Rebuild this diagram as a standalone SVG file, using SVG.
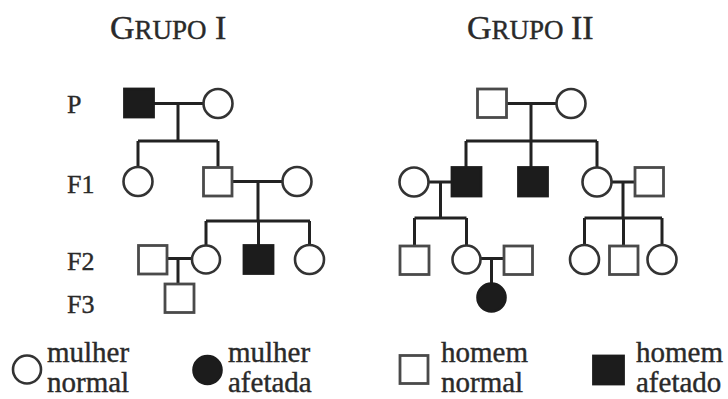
<svg xmlns="http://www.w3.org/2000/svg" width="728" height="399" viewBox="0 0 728 399">
<style>
text{font-family:"Liberation Serif","Times New Roman","DejaVu Serif",serif;fill:#2a2a2a;stroke:#2a2a2a;stroke-width:0.4}
.ttl{font-size:34px}
.sc{font-size:27px}
.lbl{font-size:26px}
.leg{font-size:29px}
.sq{fill:#fff;stroke:#4a4a4a;stroke-width:2.8}
.sqa{fill:#1c1c1c;stroke:#1c1c1c;stroke-width:2.8}
.ci{fill:#fff;stroke:#333;stroke-width:2.6}
.cia{fill:#1c1c1c;stroke:#1c1c1c;stroke-width:2.6}
.ln{fill:none;stroke:#222;stroke-width:3}
</style>
<rect width="728" height="399" fill="#fff"/>
<g id="titles">
<text class="ttl" x="110" y="39">G<tspan class="sc">RUPO</tspan><tspan x="215">I</tspan></text>
<text class="ttl" x="467" y="39">G<tspan class="sc">RUPO</tspan><tspan x="571">II</tspan></text>
</g>
<g id="gen-labels">
<text class="lbl" x="67" y="113">P</text>
<text class="lbl" x="67" y="193">F1</text>
<text class="lbl" x="67" y="270">F2</text>
<text class="lbl" x="67" y="313">F3</text>
</g>
<g id="connectors">
<path class="ln" d="M154 103.5H203.5M178 103.5V141M138 141H218M138 141V167M218 141V167"/>
<path class="ln" d="M232 181.5H282.5M258 181.5V221M206 221H310M206 221V245M258.5 221V245M309.5 221V245"/>
<path class="ln" d="M167 258.5H192M178 258.5V284"/>
<path class="ln" d="M506.5 103.5H556.5M531 103.5V141M466 141H597M466 141V167M531 141V167M597 141V167"/>
<path class="ln" d="M428.5 182H452M440.5 182V218M414.5 218H466.5M414.5 218V246M466.5 218V245"/>
<path class="ln" d="M611 182H635M623 182V218M584.5 218H662M584.5 218V245M623.5 218V246M662 218V245"/>
<path class="ln" d="M481 258.5H504M491.5 258.5V283"/>
</g>
<g id="g1-p-man"><rect class="sqa" x="124.5" y="89" width="29" height="28"/></g>
<g id="g1-p-woman"><circle class="ci" cx="218" cy="103.5" r="14.5"/></g>
<g id="g1-f1-woman"><circle class="ci" cx="138" cy="181.5" r="14.5"/></g>
<g id="g1-f1-man"><rect class="sq" x="203.5" y="167.5" width="28.5" height="28.5"/></g>
<g id="g1-f1-wife"><circle class="ci" cx="297" cy="181.5" r="14.5"/></g>
<g id="g1-f2-husband"><rect class="sq" x="138.5" y="245.5" width="28.5" height="28.5"/></g>
<g id="g1-f2-woman1"><circle class="ci" cx="206" cy="259.5" r="14"/></g>
<g id="g1-f2-man"><rect class="sqa" x="244" y="245.5" width="29" height="28"/></g>
<g id="g1-f2-woman2"><circle class="ci" cx="309.5" cy="259.5" r="14.5"/></g>
<g id="g1-f3-man"><rect class="sq" x="165" y="284" width="29" height="28.5"/></g>
<g id="g2-p-man"><rect class="sq" x="477.5" y="89" width="29" height="28.5"/></g>
<g id="g2-p-woman"><circle class="ci" cx="571" cy="103.5" r="14.5"/></g>
<g id="g2-f1-wife"><circle class="ci" cx="414" cy="182" r="14.5"/></g>
<g id="g2-f1-man1"><rect class="sqa" x="452" y="167.5" width="29" height="28.5"/></g>
<g id="g2-f1-man2"><rect class="sqa" x="518.5" y="167.5" width="29" height="28.5"/></g>
<g id="g2-f1-woman"><circle class="ci" cx="597" cy="182" r="14.5"/></g>
<g id="g2-f1-husband"><rect class="sq" x="635" y="167.5" width="28.5" height="28.5"/></g>
<g id="g2-f2-man1"><rect class="sq" x="400" y="246" width="29" height="28.5"/></g>
<g id="g2-f2-woman1"><circle class="ci" cx="466.5" cy="259.5" r="14"/></g>
<g id="g2-f2-husband"><rect class="sq" x="504" y="246" width="28.5" height="28.5"/></g>
<g id="g2-f2-woman2"><circle class="ci" cx="584.5" cy="259.5" r="14.5"/></g>
<g id="g2-f2-man2"><rect class="sq" x="609.5" y="246" width="28.5" height="28.5"/></g>
<g id="g2-f2-woman3"><circle class="ci" cx="662" cy="259.5" r="14.5"/></g>
<g id="g2-f3-woman"><circle class="cia" cx="491.5" cy="297.5" r="14"/></g>
<g id="legend-mulher-normal">
<circle class="ci" cx="27" cy="369.5" r="14"/>
<text class="leg" x="47" y="362">mulher</text>
<text class="leg" x="47" y="392">normal</text>
</g>
<g id="legend-mulher-afetada">
<circle class="cia" cx="207.5" cy="370" r="14"/>
<text class="leg" x="228" y="362">mulher</text>
<text class="leg" x="228" y="392">afetada</text>
</g>
<g id="legend-homem-normal">
<rect class="sq" x="400" y="355.5" width="28" height="28"/>
<text class="leg" x="441" y="362">homem</text>
<text class="leg" x="441" y="392">normal</text>
</g>
<g id="legend-homem-afetado">
<rect class="sqa" x="593.5" y="356" width="30" height="28"/>
<text class="leg" x="636" y="362">homem</text>
<text class="leg" x="636" y="392">afetado</text>
</g>
</svg>
